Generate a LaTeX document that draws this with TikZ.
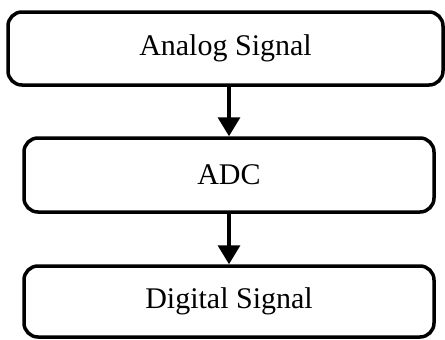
\documentclass[tikz,border=0pt]{standalone}
\usepackage{fontspec}
\setmainfont{Liberation Serif}
\usetikzlibrary{arrows.meta}
\begin{document}
\begin{tikzpicture}[x=1pt,y=-1pt,
  blk/.style={draw=black,line width=3.5pt,rounded corners=14pt,fill=white,
    inner sep=0pt,font=\fontsize{30}{34}\selectfont},
  conn/.style={line width=3.5pt,-{Triangle[length=19pt,width=22pt]}}]
\useasboundingbox[fill=white] (0,0) rectangle (445,340);
\node[blk,minimum width=435pt,minimum height=73pt] (a) at (225.5,48.5) {Analog Signal};
\node[blk,minimum width=410pt,minimum height=74pt] (b) at (229,175) {ADC};
\node[blk,minimum width=410pt,minimum height=71pt] (c) at (229,301.5) {Digital Signal};
\draw[conn] (b.north |- a.south) -- (b.north);
\draw[conn] (b.south) -- (c.north);
\end{tikzpicture}
\end{document}
